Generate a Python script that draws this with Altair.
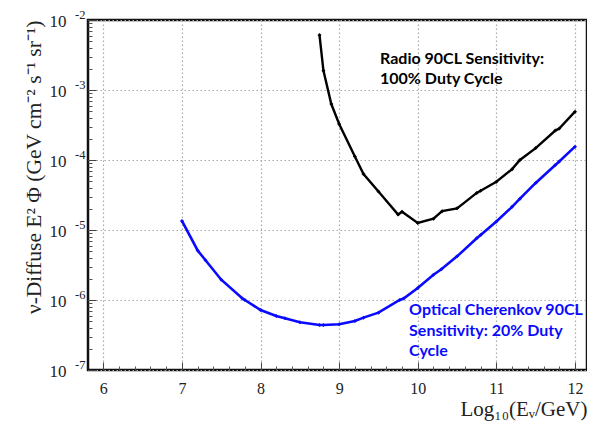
import altair as alt
import pandas as pd

# ---- data ----
radio_x = [8.75, 8.80, 8.90, 9.00, 9.20, 9.31, 9.50, 9.75, 9.80, 10.00, 10.20,
           10.31, 10.50, 10.75, 10.80, 11.00, 11.20, 11.30, 11.50, 11.75, 11.80, 12.00]
radio_y = [6.1e-3, 1.89e-3, 6.3e-4, 3.27e-4, 1.12e-4, 6.3e-5, 3.55e-5, 1.66e-5, 1.82e-5,
           1.26e-5, 1.45e-5, 1.86e-5, 2.04e-5, 3.39e-5, 3.63e-5, 4.9e-5, 7.4e-5, 1.0e-4,
           1.48e-4, 2.63e-4, 2.82e-4, 4.9e-4]

optical_x = [7.00, 7.20, 7.30, 7.50, 7.77, 7.80, 8.00, 8.20, 8.31, 8.50, 8.75, 8.80,
             9.00, 9.20, 9.31, 9.50, 9.77, 9.82, 10.00, 10.20, 10.30, 10.50, 10.75,
             10.80, 11.00, 11.20, 11.30, 11.50, 11.75, 11.80, 12.00]
optical_y = [1.35e-5, 5.1e-6, 3.7e-6, 1.95e-6, 1.05e-6, 1.0e-6, 7.2e-7, 5.9e-7, 5.5e-7,
             4.8e-7, 4.4e-7, 4.4e-7, 4.5e-7, 5.0e-7, 5.6e-7, 6.6e-7, 1.0e-6, 1.05e-6,
             1.48e-6, 2.3e-6, 2.75e-6, 4.2e-6, 7.6e-6, 8.5e-6, 1.32e-5, 2.14e-5, 2.8e-5,
             4.7e-5, 8.5e-5, 9.5e-5, 1.55e-4]

x_major = [6, 7, 8, 9, 10, 11, 12]
x_minor = [6.2, 6.4, 6.6, 6.8, 7.2, 7.4, 7.6, 7.8, 8.2, 8.4, 8.6, 8.8, 9.2, 9.4, 9.6, 9.8,
           10.2, 10.4, 10.6, 10.8, 11.2, 11.4, 11.6, 11.8]
y_major = [1e-7, 1e-6, 1e-5, 1e-4, 1e-3, 1e-2]
y_sup_labels = ["-7", "-6", "-5", "-4", "-3", "-2"]
y_minor = [m * 10.0 ** k for k in range(-7, -2) for m in range(2, 10)]

radio_label = ["Radio 90CL Sensitivity:\n100% Duty Cycle"]
radio_label_x = [9.52]
radio_label_y = [2.35e-3]
optical_label = ["Optical Cherenkov 90CL\nSensitivity: 20% Duty\nCycle"]
optical_label_x = [9.89]
optical_label_y = [6.1e-7]

x_title = "Log₁₀(Eᵥ/GeV)"
y_title = "ν-Diffuse E² Φ (GeV cm⁻² s⁻¹ sr⁻¹)"

# ---- tables ----
radio = pd.DataFrame({"x": radio_x, "y": radio_y})
optical = pd.DataFrame({"x": optical_x, "y": optical_y})
rlab = pd.DataFrame({"x": radio_label_x, "y": radio_label_y, "t": radio_label})
olab = pd.DataFrame({"x": optical_label_x, "y": optical_label_y, "t": optical_label})

SERIF = "Liberation Serif"
TXT = "#222222"
W, H = 499, 350
xs = alt.Scale(domain=[5.805, 12.153], nice=False, zero=False)
ys = alt.Scale(type="log", domain=[1e-7, 1e-2], nice=False)

sup_expr = "''"
for v, lab in zip(y_major, y_sup_labels):
    sup_expr = f"abs(log(datum.value) - log({v})) < 0.01 ? '{lab}' : " + sup_expr

grid_kw = dict(grid=True, gridDash=[1.5, 2.5], gridColor="#a8a8a8", gridWidth=1.2,
               gridOpacity=1)

ax_x_main = alt.Axis(orient="bottom", values=x_major, ticks=False, domain=False,
                     labelFont=SERIF, labelFontSize=16, labelColor=TXT, labelPadding=10,
                     labelBaseline="top", labelFlush=False, labelOverlap=False,
                     title=x_title, titleFont=SERIF, titleFontSize=21,
                     titleFontWeight="normal", titleColor=TXT, titleX=W, titleY=45,
                     titleAlign="right", titleBaseline="alphabetic", **grid_kw)
ax_x_major = alt.Axis(orient="bottom", values=x_major, ticks=True, tickSize=8, offset=-8,
                      tickColor="#444", labels=False, domain=False, grid=False, title=None)
ax_x_minor = alt.Axis(orient="bottom", values=x_minor, ticks=True, tickSize=4, offset=-4,
                      tickColor="#555", labels=False, domain=False, grid=False, title=None)

ax_y_main = alt.Axis(orient="left", values=y_major, ticks=False, domain=False,
                     labelExpr="'10'", labelFont=SERIF, labelFontSize=17, labelColor=TXT,
                     labelPadding=22, labelBaseline="middle", labelOffset=1,
                     labelOverlap=False, title=y_title, titleFont=SERIF, titleFontSize=21.5,
                     titleFontWeight="normal", titleColor=TXT, titleAngle=270,
                     titleX=-54, titleY=0, titleAlign="right", titleBaseline="middle",
                     **grid_kw)
ax_y_sup = alt.Axis(orient="left", values=y_major, ticks=False, domain=False, grid=False,
                    labelExpr=sup_expr, labelFont=SERIF, labelFontSize=12.5, labelColor=TXT,
                    labelPadding=3, labelBaseline="middle", labelOffset=-6,
                    labelOverlap=False, title=None)
ax_y_major = alt.Axis(orient="left", values=y_major, ticks=True, tickSize=8, offset=-8,
                      tickColor="#444", labels=False, domain=False, grid=False, title=None)
ax_y_minor = alt.Axis(orient="left", values=y_minor, ticks=True, tickSize=4, offset=-4,
                      tickColor="#555", labels=False, domain=False, grid=False, title=None)

BLUE = "#0a0aff"

l1 = alt.Chart(radio).mark_line(color="black", strokeWidth=2.4).encode(
    x=alt.X("x:Q", scale=xs, axis=ax_x_main), y=alt.Y("y:Q", scale=ys, axis=ax_y_main))
l2 = alt.Chart(optical).mark_line(color=BLUE, strokeWidth=2.6).encode(
    x=alt.X("x:Q", scale=xs, axis=ax_x_major), y=alt.Y("y:Q", scale=ys, axis=ax_y_sup))
p1 = alt.Chart(radio).mark_point(color="black", filled=True, size=16, shape="diamond",
                                 opacity=1).encode(
    x=alt.X("x:Q", scale=xs, axis=ax_x_minor), y=alt.Y("y:Q", scale=ys, axis=ax_y_major))
p2 = alt.Chart(optical).mark_point(color=BLUE, filled=True, size=16, shape="diamond",
                                   opacity=1).encode(
    x=alt.X("x:Q", scale=xs, axis=None), y=alt.Y("y:Q", scale=ys, axis=ax_y_minor))
t1 = alt.Chart(rlab).mark_text(font="Lato", fontWeight="bold", fontSize=16, color="black",
                               align="left", baseline="alphabetic", lineBreak="\n",
                               lineHeight=20).encode(
    x=alt.X("x:Q", scale=xs, axis=None), y=alt.Y("y:Q", scale=ys, axis=None), text="t:N")
t2 = alt.Chart(olab).mark_text(font="Lato", fontWeight="bold", fontSize=16, color=BLUE,
                               align="left", baseline="alphabetic", lineBreak="\n",
                               lineHeight=20.5).encode(
    x=alt.X("x:Q", scale=xs, axis=None), y=alt.Y("y:Q", scale=ys, axis=None), text="t:N")

chart = alt.layer(l1, l2, p1, p2, t1, t2).resolve_axis(
    x="independent", y="independent"
).properties(
    width=W, height=H,
    autosize=alt.AutoSizeParams(type="none"),
    padding={"left": 80, "top": 12, "right": 0, "bottom": 52},
    background="white",
).configure_view(stroke="#111111", strokeWidth=2.5)

chart.save("out.html", embed_options={"renderer": "svg", "actions": False})
